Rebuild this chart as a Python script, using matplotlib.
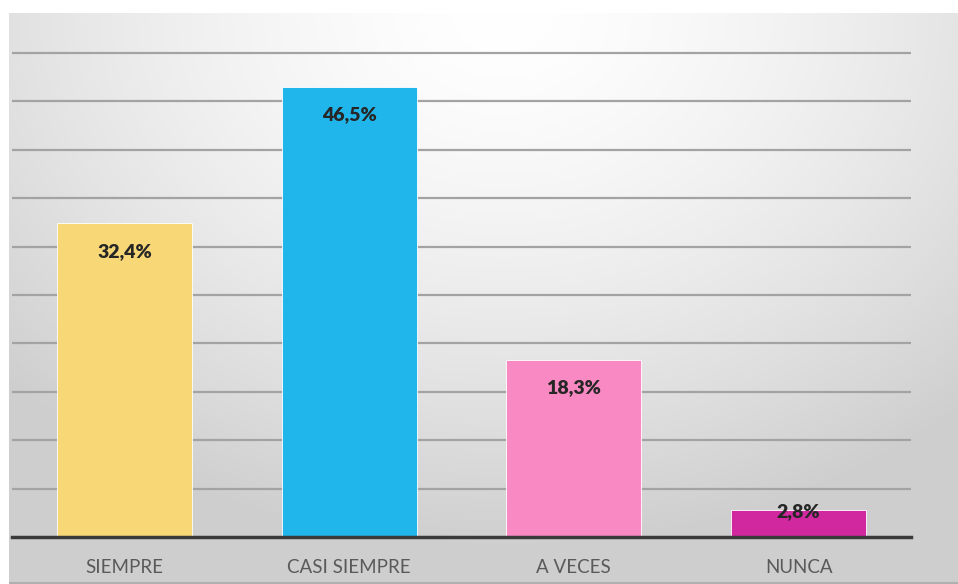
import numpy as np
import matplotlib.pyplot as plt

# data
categories = ['SIEMPRE', 'CASI SIEMPRE', 'A VECES', 'NUNCA']
values = [32.4, 46.5, 18.3, 2.8]
labels = ['32,4%', '46,5%', '18,3%', '2,8%']
colors = ['#F8D776', '#21B6EB', '#F989C2', '#D2289F']

W, H = 958, 584
fig = plt.figure(figsize=(W / 100, H / 100), dpi=100)
fig.patch.set_facecolor('white')

# panel background: bright near the top centre, grey towards the edges
bg = fig.add_axes([9 / W, 0, 1 - 9 / W, 1 - 13 / H])
bg.set_axis_off()
yy, xx = np.mgrid[0:1:300j, 0:1:500j]
d = np.sqrt(((xx - 0.52) / 1.0) ** 2 + ((yy - 0.0) / 1.3) ** 2)
shade = 1.0 - 0.19 * np.clip(d / 0.72, 0, 1) ** 1.5
bg.imshow(np.dstack([shade, shade, shade]), extent=[0, 1, 1, 0], aspect='auto', vmin=0, vmax=1)
bg.set_xlim(0, 1)
bg.set_ylim(1, 0)
# thin shadow on top edge of the panel
bg.plot([0, 1], [0.002, 0.002], color='#b0b0b0', lw=1.5, transform=bg.transAxes)

ax = fig.add_axes([12 / W, (H - 537) / H, (911 - 12) / W, (537 - 51) / H])
ax.patch.set_alpha(0)

x = np.arange(len(categories))
ax.bar(x, values, width=0.6, color=colors, zorder=3, edgecolor='white', linewidth=0.6)

ax.set_xlim(-0.5, len(categories) - 0.5)
ax.set_ylim(0, 50.2)
ax.set_yticks(np.arange(5, 51, 5))
ax.yaxis.grid(True, color='#a3a3a3', linewidth=1.6, zorder=1)
ax.tick_params(axis='y', left=False, labelleft=False)
ax.tick_params(axis='x', bottom=False, pad=12, labelsize=13.5, labelcolor='#5a5a5a')
ax.set_xticks(x)
ax.set_xticklabels(categories, fontfamily='Lato')
for s in ['top', 'right', 'left']:
    ax.spines[s].set_visible(False)
ax.spines['bottom'].set_color('#3a3a3a')
ax.spines['bottom'].set_linewidth(2.5)
ax.spines['bottom'].set_zorder(4)

for xi, v, lab in zip(x, values, labels):
    off = -20 if v > 5 else -1
    ax.annotate(lab, (xi, v), xytext=(0, off), textcoords='offset points',
                ha='center', va='center', fontsize=14, fontweight='heavy',
                fontfamily='Lato', color='#262626', zorder=5)

fig.savefig('out.png', dpi=100)
